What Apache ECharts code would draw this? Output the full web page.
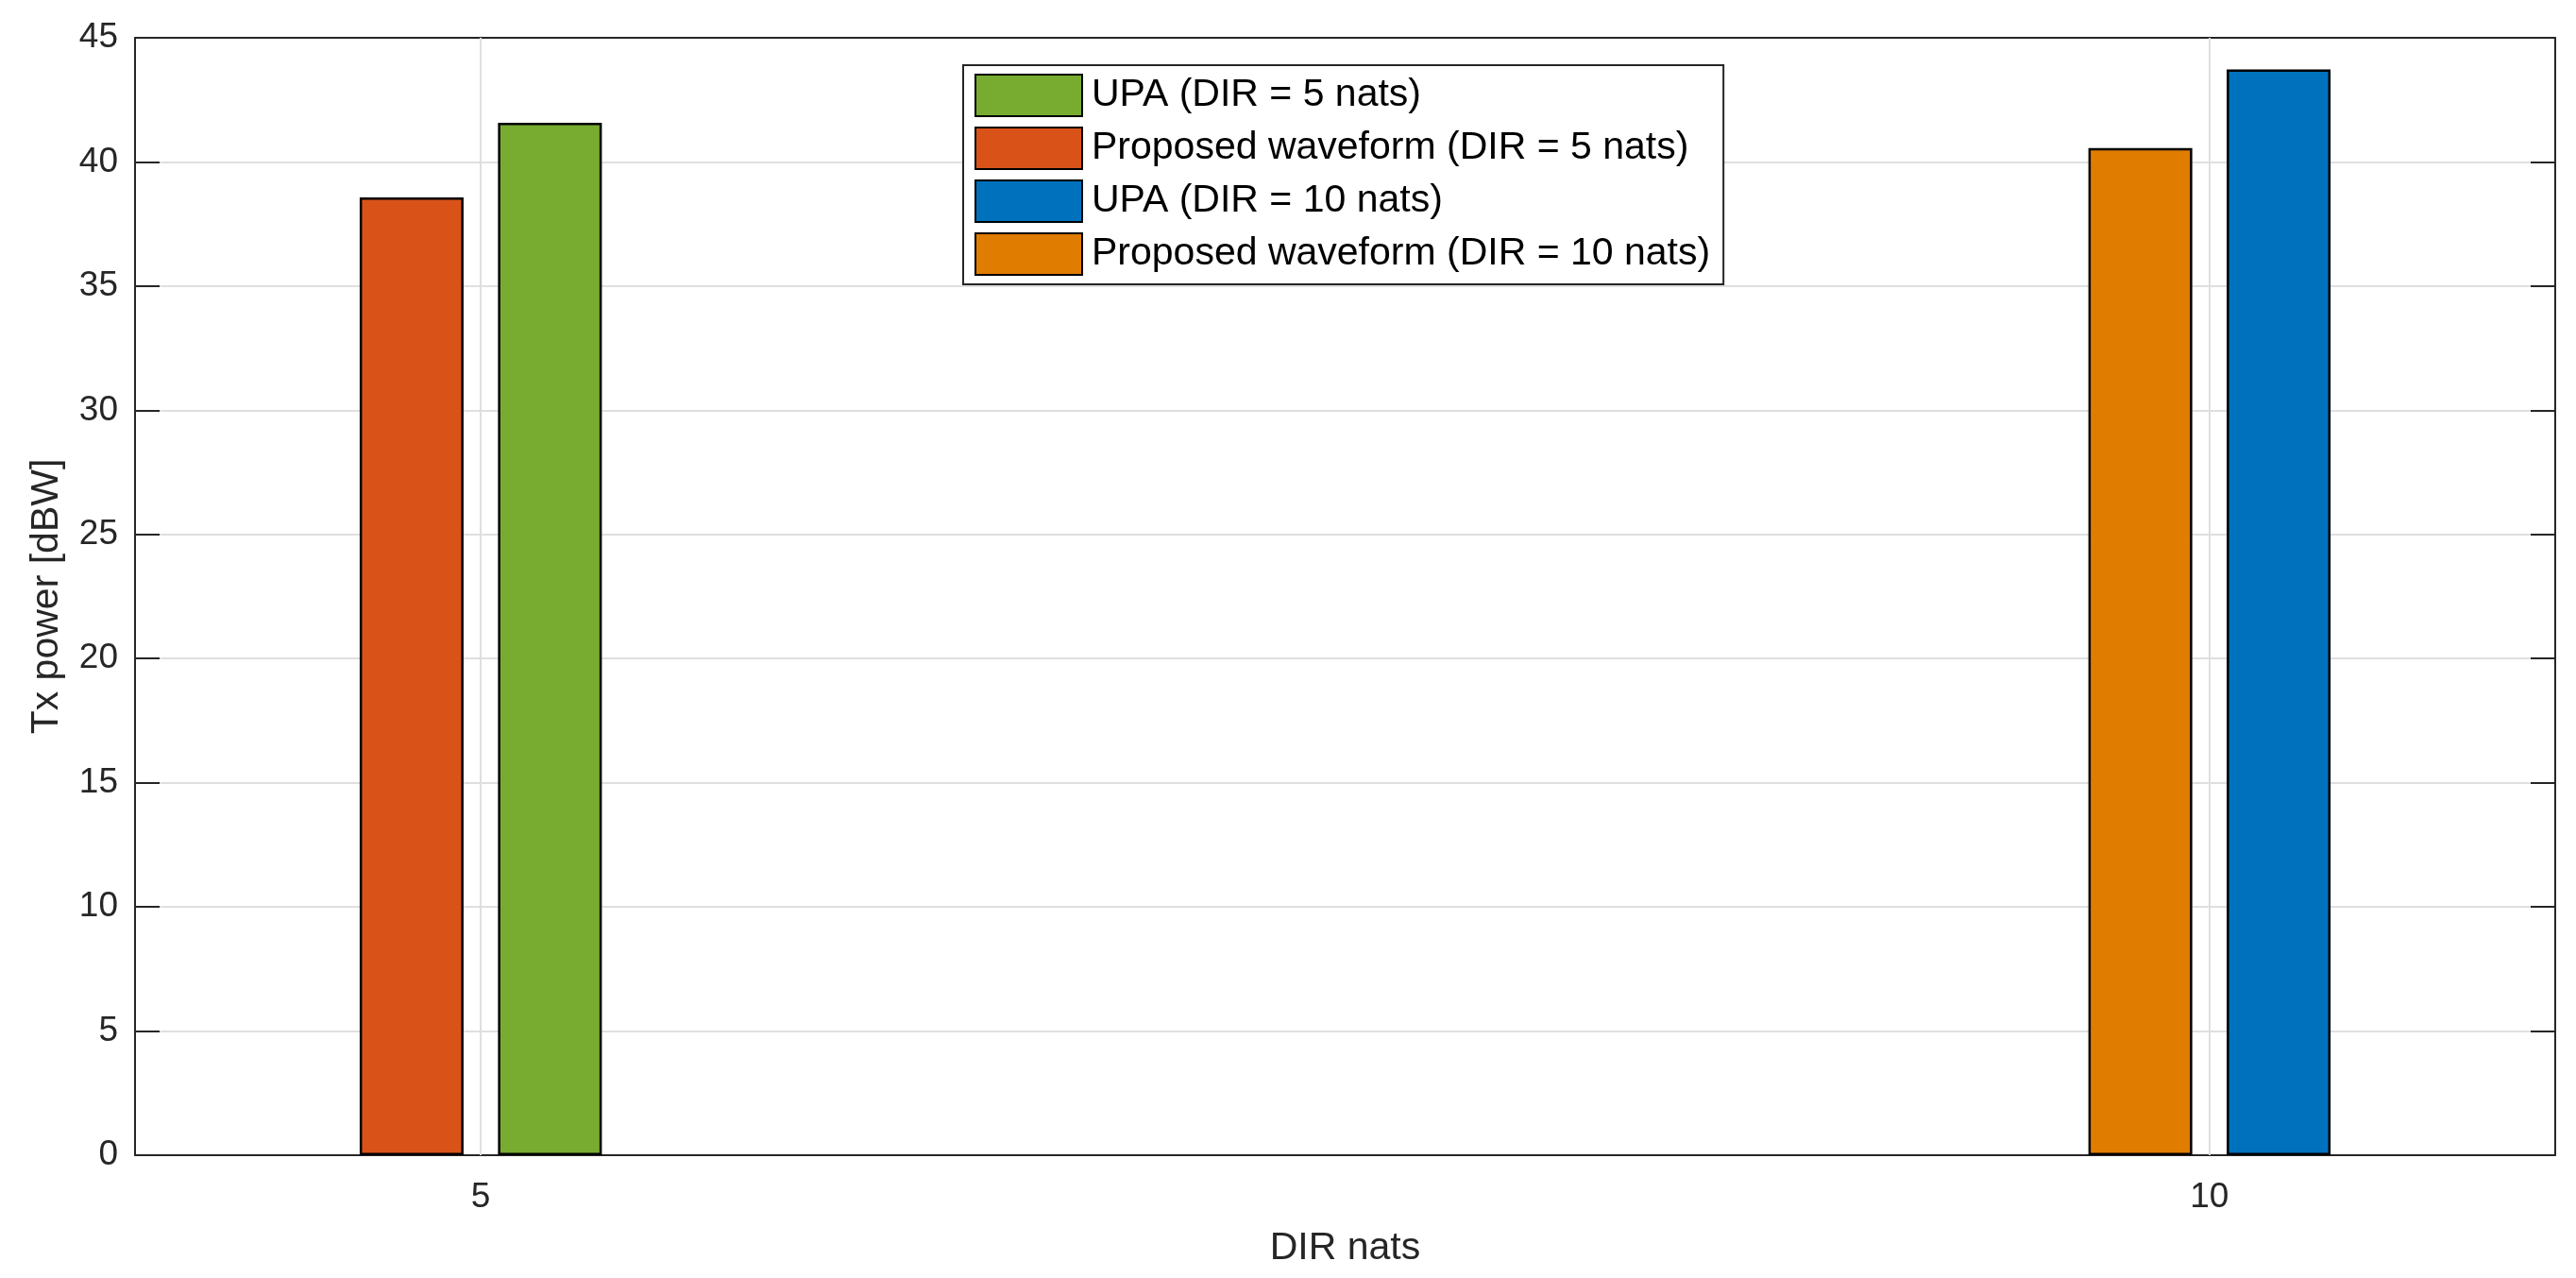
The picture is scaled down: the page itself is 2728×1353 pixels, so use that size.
<!DOCTYPE html>
<html>
<head>
<meta charset="utf-8">
<script src="https://cdn.jsdelivr.net/npm/echarts@6/dist/echarts.min.js"></script>
<style>
  html, body { margin: 0; padding: 0; background: #fff; }
  #main { width: 2728px; height: 1353px; }
</style>
</head>
<body>
<div id="main"></div>
<script>
// DIR values on the x axis
var dirNats = [5, 10];
// Tx power [dBW], one entry per DIR value (null = no bar)
var upa5 = [41.58, null];
var proposed5 = [38.57, null];
var upa10 = [null, 43.73];
var proposed10 = [null, 40.56];
var yTicks = [0, 5, 10, 15, 20, 25, 30, 35, 40, 45];

var seriesNames = [
  'UPA (DIR = 5 nats)',
  'Proposed waveform (DIR = 5 nats)',
  'UPA (DIR = 10 nats)',
  'Proposed waveform (DIR = 10 nats)'
];
var seriesColors = ['#77AC30', '#D95319', '#0072BD', '#E07D00'];

// bars inside a group sit left (proposed) and right (UPA) of the DIR value
var groupShift = 0.2;
function toPoints(vals, shift) {
  var out = [];
  for (var i = 0; i < dirNats.length; i++) {
    if (vals[i] != null) out.push([dirNats[i] + shift, vals[i]]);
  }
  return out;
}

var font = "'Liberation Sans', Arial, sans-serif";
var ink = '#262626';

var chartDom = document.getElementById('main');
var myChart = echarts.init(chartDom, null, { renderer: 'canvas' });
var option;

function xAx(pos, showLabels) {
  return {
    type: 'value',
    position: pos,
    min: 4,
    max: 11,
    name: showLabels ? 'DIR nats' : '',
    nameLocation: 'middle',
    nameGap: 78,
    nameTextStyle: { fontFamily: font, fontSize: 41, color: ink },
    axisLine: { show: true, onZero: false, lineStyle: { color: ink, width: 2 } },
    axisTick: { show: true, inside: true, length: 26, customValues: dirNats, lineStyle: { color: ink, width: 2 } },
    axisLabel: { show: showLabels, customValues: dirNats, fontFamily: font, fontSize: 37, color: ink, margin: 26 },
    splitLine: { show: false }
  };
}
function yAx(pos, showLabels) {
  return {
    type: 'value',
    position: pos,
    min: yTicks[0],
    max: yTicks[yTicks.length - 1],
    interval: yTicks[1] - yTicks[0],
    name: showLabels ? 'Tx power [dBW]' : '',
    nameLocation: 'middle',
    nameGap: 73,
    nameTextStyle: { fontFamily: font, fontSize: 41, color: ink },
    axisLine: { show: true, onZero: false, lineStyle: { color: ink, width: 2 } },
    axisTick: { show: true, inside: true, length: 26, lineStyle: { color: ink, width: 2 } },
    axisLabel: { show: showLabels, fontFamily: font, fontSize: 37, color: ink, margin: 18 },
    splitLine: { show: showLabels, lineStyle: { color: '#dfdfdf', width: 2 } }
  };
}

function barSeries(idx, vals, shift) {
  return {
    name: seriesNames[idx],
    type: 'bar',
    xAxisIndex: 0,
    yAxisIndex: 0,
    data: toPoints(vals, shift),
    barWidth: 110,
    barGap: '-100%',
    itemStyle: { color: seriesColors[idx], borderColor: '#000', borderWidth: 2.5 },
    emphasis: { disabled: true },
    z: 3
  };
}

option = {
  animation: false,
  backgroundColor: '#fff',
  textStyle: { fontFamily: font },
  grid: { left: 143, right: 22, top: 40, bottom: 130, containLabel: false },
  legend: {
    orient: 'vertical',
    left: 1020,
    top: 69,
    itemWidth: 113,
    itemHeight: 44,
    itemGap: 10,
    icon: 'rect',
    padding: [9, 14, 9, 12],
    backgroundColor: '#fff',
    borderColor: ink,
    borderWidth: 2,
    textStyle: { fontFamily: font, fontSize: 41, lineHeight: 44, color: '#000', padding: [0, 0, 0, 5] },
    data: seriesNames
  },
  xAxis: [xAx('bottom', true), xAx('top', false)],
  yAxis: [yAx('left', true), yAx('right', false)],
  series: [
    barSeries(0, upa5, groupShift),
    barSeries(1, proposed5, -groupShift),
    barSeries(2, upa10, groupShift),
    barSeries(3, proposed10, -groupShift),
    {
      // vertical grid lines at the DIR ticks
      type: 'line',
      data: [],
      markLine: {
        silent: true,
        symbol: 'none',
        label: { show: false },
        lineStyle: { color: '#dfdfdf', width: 2, type: 'solid' },
        data: dirNats.map(function (d) { return { xAxis: d }; })
      },
      z: 1
    }
  ]
};

option && myChart.setOption(option);
</script>
</body>
</html>
